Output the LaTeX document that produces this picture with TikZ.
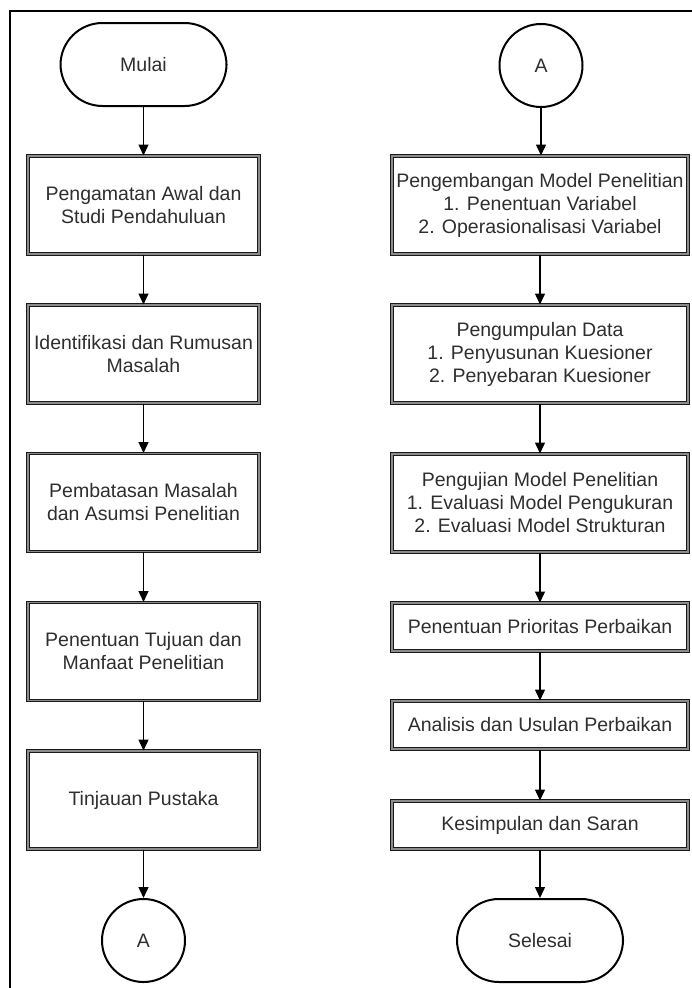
\documentclass[tikz,border=0pt]{standalone}
\usepackage{fontspec}
\setmainfont{Liberation Sans}
\usetikzlibrary{arrows.meta}
\begin{document}
\begin{tikzpicture}[x=1pt,y=-1pt,
  every node/.style={font=\fontsize{19.5}{23}\selectfont, text=black!82, align=center, inner sep=0pt},
  procbox/.style={draw=black!90, line width=1pt, double=black!45, double distance=1.1pt, minimum width=231pt, minimum height=98pt},
  rbox/.style={procbox, minimum width=296pt},
  term/.style={draw=black, line width=2pt, rounded corners=42pt, minimum width=166pt, minimum height=83pt},
  conn/.style={draw=black, line width=2pt, circle, minimum size=83pt},
  flow/.style={draw=black, line width=1.4pt, -{Triangle[width=10pt,length=11pt]}}
]
\useasboundingbox (0,0) rectangle (692,988);
% frame
\draw[line width=2.4pt] (10,988) -- (10,10.6);
\draw[line width=1.6pt] (9,11) -- (692,11);

% left column
\node[term] (mulai) at (143.5,64.5) {Mulai};
\node[procbox] (l1) at (143.5,205) {Pengamatan Awal dan\\Studi Pendahuluan};
\node[procbox] (l2) at (143.5,354) {Identifikasi dan Rumusan\\Masalah};
\node[procbox] (l3) at (143.5,502.5) {Pembatasan Masalah\\dan Asumsi Penelitian};
\node[procbox] (l4) at (143.5,651.5) {Penentuan Tujuan dan\\Manfaat Penelitian};
\node[procbox] (l5) at (143.5,800) {Tinjauan Pustaka};
\node[conn] (aout) at (143.5,940.5) {A};

% right column
\node[conn] (ain) at (541,65.5) {A};
\node[rbox] (r1) at (540,205) {Pengembangan Model Penelitian\\1. Penentuan Variabel\\2. Operasionalisasi Variabel};
\node[rbox] (r2) at (540,354) {Pengumpulan Data\\1. Penyusunan Kuesioner\\2. Penyebaran Kuesioner};
\node[rbox] (r3) at (540,503) {Pengujian Model Penelitian\\1. Evaluasi Model Pengukuran\\2. Evaluasi Model Strukturan};
\node[rbox, minimum height=48pt] (r4) at (540,627) {Penentuan Prioritas Perbaikan};
\node[rbox, minimum height=48pt] (r5) at (540,725) {Analisis dan Usulan Perbaikan};
\node[rbox, minimum height=48pt] (r6) at (540,825) {Kesimpulan dan Saran};
\node[term] (selesai) at (540,940.5) {Selesai};

% connectors
\draw[flow] (mulai) -- (l1);
\draw[flow] (l1) -- (l2);
\draw[flow] (l2) -- (l3);
\draw[flow] (l3) -- (l4);
\draw[flow] (l4) -- (l5);
\draw[flow] (l5) -- (aout);
\draw[flow] (ain) -- (ain |- r1.north);
\draw[flow] (r1) -- (r2);
\draw[flow] (r2) -- (r3);
\draw[flow] (r3) -- (r4);
\draw[flow] (r4) -- (r5);
\draw[flow] (r5) -- (r6);
\draw[flow] (r6) -- (selesai);
\end{tikzpicture}
\end{document}
